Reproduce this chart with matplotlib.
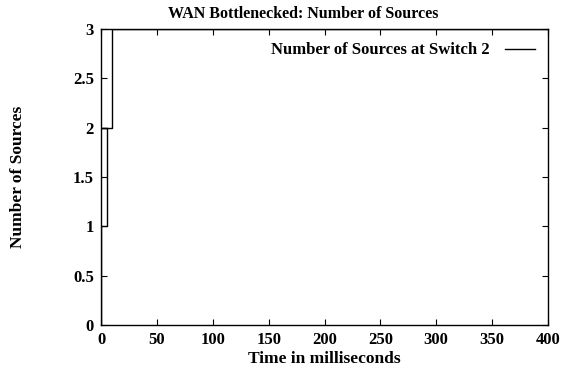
import matplotlib
matplotlib.use("Agg")
import matplotlib.pyplot as plt

# Step trace of number of sources at switch 2 (time in ms, count)
times = [0, 0, 5, 5, 0, 10, 10, 400]
sources = [0, 1, 1, 2, 2, 2, 3, 3]
x_ticks = [0, 50, 100, 150, 200, 250, 300, 350, 400]
y_ticks = [0, 0.5, 1, 1.5, 2, 2.5, 3]
y_tick_labels = ["0", "0.5", "1", "1.5", "2", "2.5", "3"]

plt.rcParams['font.family'] = ['Liberation Serif', 'DejaVu Serif']
plt.rcParams['font.weight'] = 'bold'

fig = plt.figure(figsize=(5.62, 3.68), dpi=100)
ax = fig.add_axes([101/562, 1 - 325/368, (548-101)/562, (325-29)/368])

ax.plot(times, sources, color='black', lw=1.0, label='Number of Sources at Switch 2')
ax.set_xlim(0, 400)
ax.set_ylim(0, 3)
ax.set_xticks(x_ticks)
ax.set_xticklabels([str(v) for v in x_ticks], fontsize=12, fontweight='bold')
ax.set_yticks(y_ticks)
ax.set_yticklabels(y_tick_labels, fontsize=12, fontweight='bold')
ax.tick_params(direction='in', top=True, right=True, length=4, width=0.8, pad=5)
for s in ax.spines.values():
    s.set_linewidth(1.0)

fig.text(303/562, 1 - 14/368, 'WAN Bottlenecked: Number of Sources', fontsize=11.5,
         fontweight='bold', ha='center', va='center')
ax.set_xlabel('Time in milliseconds', fontsize=12.5, fontweight='bold', labelpad=2)
ax.set_ylabel('Number of Sources', fontsize=12.5, fontweight='bold', labelpad=34)

leg = ax.legend(loc='upper right', frameon=False, markerfirst=False,
                handlelength=1.8, handletextpad=0.9, borderaxespad=0.4,
                prop={'weight': 'bold', 'size': 12})

fig.savefig('out.png', dpi=100)
